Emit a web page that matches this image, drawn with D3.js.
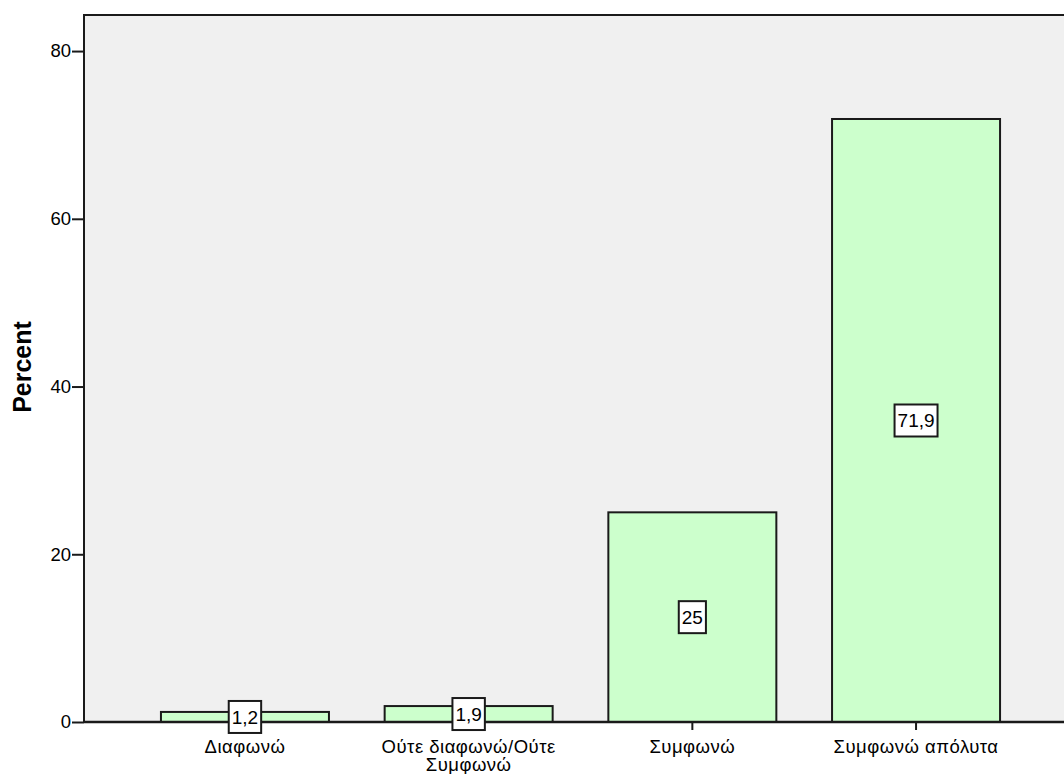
<!DOCTYPE html>
<html>
<head>
<meta charset="utf-8">
<script src="https://cdn.jsdelivr.net/npm/d3@7"></script>
<style>
  body { margin: 0; background: #fff; }
  text { font-family: "Liberation Sans", Arial, sans-serif; }
</style>
</head>
<body>
<script>
// Data
var categories = ["Διαφωνώ", "Ούτε διαφωνώ/Ούτε Συμφωνώ", "Συμφωνώ", "Συμφωνώ απόλυτα"];
var percents = [1.2, 1.9, 25, 71.9];
var valueLabels = ["1,2", "1,9", "25", "71,9"];
var yTicks = [0, 20, 40, 60, 80];
var yTitle = "Percent";

var w = 1064, h = 774;
var plotLeft = 84, plotTop = 15, plotBottom = 722, plotRight = 1077;

var svg = d3.select("body").append("svg")
    .attr("width", w)
    .attr("height", h);

var xScale = d3.scaleBand()
    .domain(categories)
    .range([plotLeft, plotRight])
    .paddingInner(0.249)
    .paddingOuter(0.344);

var yScale = d3.scaleLinear()
    .domain([0, 84.3])
    .range([plotBottom, plotTop]);

// plot background
svg.append("rect")
    .attr("x", plotLeft).attr("y", plotTop)
    .attr("width", plotRight - plotLeft).attr("height", plotBottom - plotTop)
    .attr("fill", "#f0f0f0")
    .attr("stroke", "#1a1a1a")
    .attr("stroke-width", 2);

// bars
svg.selectAll(".bar")
    .data(percents)
    .enter()
    .append("rect")
    .attr("class", "bar")
    .attr("x", function(d, i) { return xScale(categories[i]); })
    .attr("y", function(d) { return yScale(d); })
    .attr("width", xScale.bandwidth())
    .attr("height", function(d) { return plotBottom - yScale(d); })
    .attr("fill", "#ccffcc")
    .attr("stroke", "#1a1a1a")
    .attr("stroke-width", 2);

// y axis
var yAxis = svg.append("g")
    .attr("transform", "translate(" + plotLeft + ",0)")
    .call(d3.axisLeft(yScale).tickValues(yTicks).tickSize(12).tickPadding(1).tickFormat(d3.format("d")));
yAxis.select(".domain").remove();
yAxis.selectAll("line").attr("stroke", "#1a1a1a").attr("stroke-width", 2);
yAxis.selectAll("text").attr("font-size", 18.5).attr("fill", "#000")
    .attr("font-family", "'Liberation Sans', Arial, sans-serif");

// x axis
var xAxis = svg.append("g")
    .attr("transform", "translate(0," + plotBottom + ")")
    .call(d3.axisBottom(xScale).tickSize(8).tickFormat(""));
xAxis.select(".domain").attr("stroke", "#1a1a1a").attr("stroke-width", 2.5)
    .attr("d", "M" + plotLeft + ",0H" + plotRight);
xAxis.selectAll("line").attr("stroke", "#1a1a1a").attr("stroke-width", 2);

// x labels, wrapped like the original
var wrapped = [["Διαφωνώ"], ["Ούτε διαφωνώ/Ούτε", "Συμφωνώ"], ["Συμφωνώ"], ["Συμφωνώ απόλυτα"]];
svg.selectAll(".xlab")
    .data(categories)
    .enter()
    .append("text")
    .attr("class", "xlab")
    .attr("x", function(d) { return xScale(d) + xScale.bandwidth() / 2; })
    .attr("y", 753)
    .attr("text-anchor", "middle")
    .attr("font-size", 18.5)
    .attr("letter-spacing", 0.5)
    .attr("fill", "#000")
    .each(function(d, i) {
        var t = d3.select(this);
        wrapped[i].forEach(function(line, j) {
            t.append("tspan")
                .attr("x", xScale(d) + xScale.bandwidth() / 2)
                .attr("dy", j === 0 ? 0 : 18)
                .text(line);
        });
    });

// value label boxes in the middle of each bar
var labels = svg.selectAll(".vlab")
    .data(percents)
    .enter()
    .append("g")
    .attr("class", "vlab")
    .attr("transform", function(d, i) {
        return "translate(" + (xScale(categories[i]) + xScale.bandwidth() / 2) + "," + yScale(d / 2) + ")";
    });

labels.append("text")
    .attr("text-anchor", "middle")
    .attr("dy", "0.36em")
    .attr("font-size", 19)
    .attr("fill", "#000")
    .text(function(d, i) { return valueLabels[i]; });

labels.each(function() {
    var g = d3.select(this);
    var bb = g.select("text").node().getBBox();
    g.insert("rect", "text")
        .attr("x", bb.x - 3)
        .attr("y", -16)
        .attr("width", bb.width + 6)
        .attr("height", 32)
        .attr("fill", "#fff")
        .attr("stroke", "#1a1a1a")
        .attr("stroke-width", 2);
});

// y title
svg.append("text")
    .attr("transform", "translate(31," + 367 + ") rotate(-90)")
    .attr("text-anchor", "middle")
    .attr("font-size", 25)
    .attr("font-weight", "bold")
    .attr("fill", "#000")
    .text(yTitle);
</script>
</body>
</html>
